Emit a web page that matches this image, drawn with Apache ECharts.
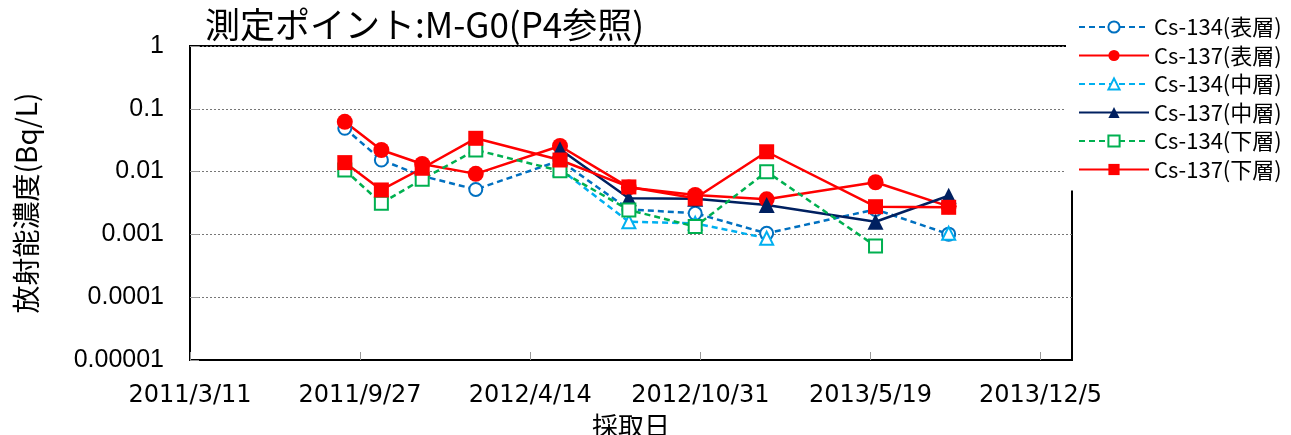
<!DOCTYPE html>
<html>
<head>
<meta charset="utf-8">
<script src="https://cdn.jsdelivr.net/npm/echarts@6/dist/echarts.min.js"></script>
<style>
  html, body { margin: 0; padding: 0; background: #fff; overflow: hidden; }
  #chart { width: 1291px; height: 435px; }
</style>
</head>
<body>
<div id="chart"></div>
<script>
// 採取日
var sampleDates = ['2011/9/9', '2011/10/22', '2011/12/9', '2012/2/10', '2012/5/19',
  '2012/8/8', '2012/10/25', '2013/1/17', '2013/5/25', '2013/8/19'];

// 放射能濃度 (Bq/L)
var cs134Surface = [0.049, 0.0153, 0.0085, 0.0052, 0.015, 0.0025, 0.00217, 0.00104, 0.0025, 0.00101];
var cs137Surface = [0.062, 0.0221, 0.0132, 0.0092, 0.0256, 0.0056, 0.00424, 0.00362, 0.00676, 0.0028];
var cs134Middle = [null, null, null, null, 0.011, 0.00159, 0.0015, 0.00087, null, 0.00104];
var cs137Middle = [null, null, null, null, 0.0227, 0.00376, 0.0037, 0.00294, 0.00159, 0.00413];
var cs134Bottom = [0.0106, 0.00313, 0.00754, 0.0221, 0.0103, 0.00245, 0.00133, 0.00996, 0.000654, null];
var cs137Bottom = [0.0139, 0.0051, 0.0113, 0.0339, 0.0153, 0.0057, 0.00376, 0.0207, 0.00276, 0.0027];

// 軸
var xStartDate = '2011/3/11';
var xEndDate = '2014/1/11';
var xTickDays = 200;
var yTickLabels = ['0.00001', '0.0001', '0.001', '0.01', '0.1', '1'];

function toUtc(s) {
  var p = s.split('/');
  return Date.UTC(+p[0], +p[1] - 1, +p[2]);
}
function dayOffset(s) {
  return Math.round((toUtc(s) - toUtc(xStartDate)) / 86400000);
}
function dayLabel(d) {
  var t = new Date(toUtc(xStartDate) + d * 86400000);
  return t.getUTCFullYear() + '/' + (t.getUTCMonth() + 1) + '/' + t.getUTCDate();
}
function pairs(values) {
  return values.map(function (v, i) {
    return [dayOffset(sampleDates[i]), v];
  });
}

var jpFont = '"Noto Sans CJK JP", sans-serif';

function makeSeries(name, values, color, dashed, symbol, size) {
  return {
    name: name,
    type: 'line',
    data: pairs(values),
    connectNulls: false,
    symbol: symbol,
    symbolSize: size,
    showAllSymbol: true,
    color: color,
    lineStyle: { color: color, width: 2.5, type: dashed ? [6, 4] : 'solid' },
    itemStyle: { color: color, borderWidth: 2 },
    emphasis: { disabled: true },
    animation: false
  };
}

var chart = echarts.init(document.getElementById('chart'), null, { width: 1291, height: 435 });

var option = {
  backgroundColor: '#fff',
  animation: false,
  title: {
    text: '測定ポイント:M-G0(P4参照)',
    left: 200,
    top: 2,
    textStyle: { fontFamily: jpFont, fontSize: 35, fontWeight: 'normal', color: '#000' }
  },
  legend: {
    orient: 'vertical',
    left: 1066,
    top: 0,
    padding: [16, 6, 10, 12],
    backgroundColor: '#fff',
    itemWidth: 70,
    itemHeight: 14,
    itemGap: 6.5,
    textStyle: { fontFamily: jpFont, fontSize: 22, lineHeight: 21, color: '#000' },
    data: ['Cs-134(表層)', 'Cs-137(表層)', 'Cs-134(中層)', 'Cs-137(中層)', 'Cs-134(下層)', 'Cs-137(下層)']
  },
  grid: {
    left: 190,
    right: 219,
    top: 46,
    bottom: 75,
    outerBoundsMode: 'none',
    show: true,
    borderColor: '#000',
    borderWidth: 2
  },
  xAxis: {
    type: 'value',
    min: 0,
    max: dayOffset(xEndDate),
    interval: xTickDays,
    name: '採取日',
    nameLocation: 'middle',
    nameGap: 46,
    nameTextStyle: { fontFamily: jpFont, fontSize: 26, color: '#000' },
    axisLine: { lineStyle: { color: '#000', width: 2 } },
    axisTick: { inside: true, length: 8, lineStyle: { color: '#999', width: 1 } },
    splitLine: { show: false },
    axisLabel: {
      margin: 24,
      fontFamily: '"DejaVu Sans", sans-serif',
      fontSize: 24,
      color: '#000',
      showMaxLabel: false,
      formatter: function (v) {
        return v % xTickDays === 0 ? dayLabel(v) : '';
      }
    }
  },
  yAxis: {
    type: 'log',
    logBase: 10,
    min: 0.00001,
    max: 1,
    name: '放射能濃度(Bq/L)',
    nameLocation: 'middle',
    nameGap: 150,
    nameRotate: 90,
    nameTextStyle: { fontFamily: jpFont, fontSize: 28, color: '#000' },
    axisLine: { show: true, lineStyle: { color: '#000', width: 2 } },
    axisTick: { show: true, inside: true, length: 9, lineStyle: { color: '#999', width: 1 } },
    splitLine: { show: true, lineStyle: { color: '#777', width: 1, type: [2, 2] } },
    axisLabel: {
      margin: 26,
      fontFamily: '"Liberation Sans", Arial, sans-serif',
      fontSize: 25,
      color: '#000',
      formatter: function (v, i) {
        return yTickLabels[i];
      }
    }
  },
  series: [
    makeSeries('Cs-134(表層)', cs134Surface, '#0070C0', true, 'emptyCircle', 13),
    makeSeries('Cs-137(表層)', cs137Surface, '#FF0000', false, 'circle', 16),
    makeSeries('Cs-134(中層)', cs134Middle, '#00B0F0', true, 'emptyTriangle', 13),
    makeSeries('Cs-137(中層)', cs137Middle, '#002060', false, 'triangle', 16),
    makeSeries('Cs-134(下層)', cs134Bottom, '#00B050', true, 'emptyRect', 13),
    makeSeries('Cs-137(下層)', cs137Bottom, '#FF0000', false, 'rect', 15)
  ]
};

chart.setOption(option);
</script>
</body>
</html>
